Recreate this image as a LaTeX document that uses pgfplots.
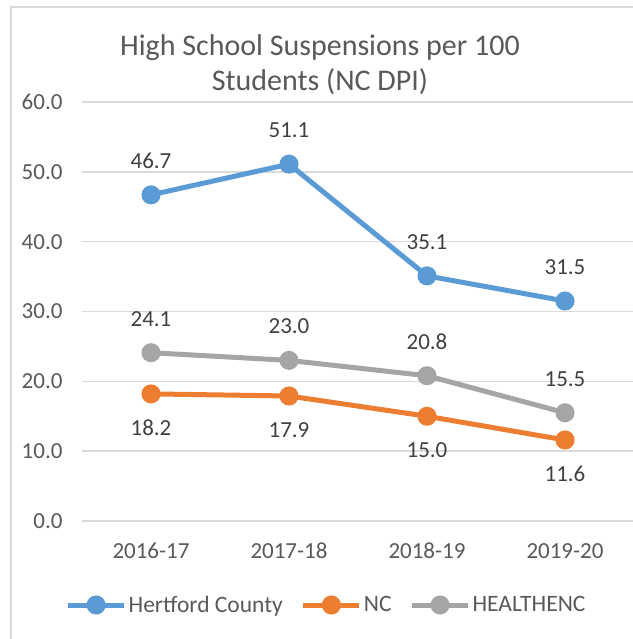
\documentclass[border=0pt]{standalone}
\usepackage{fontspec}
\setmainfont{Carlito}
\usepackage{pgfplots}
\pgfplotsset{compat=1.18}

\definecolor{hertford}{HTML}{5B9BD5}
\definecolor{ncorange}{HTML}{ED7D31}
\definecolor{healthgray}{HTML}{A5A5A5}
\definecolor{gridgray}{HTML}{D9D9D9}
\definecolor{ticktext}{HTML}{595959}
\definecolor{labeltext}{HTML}{404040}

\begin{document}
\begin{tikzpicture}[x=1pt,y=1pt]
\useasboundingbox (0,0) rectangle (632,639);
% chart frame (cropped on the right and bottom)
\draw[gridgray, line width=1.5pt] (11,-20) -- (11,632) -- (700,632);
\node[align=center, text=ticktext, font=\fontsize{30}{35}\selectfont] at (320,574.5)
  {High School Suspensions per 100\\Students (NC DPI)};

\begin{axis}[
    at={(82pt,118pt)}, anchor=south west,
    scale only axis, width=552pt, height=419pt,
    xmin=-0.5, xmax=3.5, ymin=0, ymax=60,
    xtick={0,1,2,3},
    xticklabels={2016-17,2017-18,2018-19,2019-20},
    ytick={0,10,...,60},
    ymajorgrids,
    grid style={gridgray, line width=1.5pt},
    axis line style={draw=none},
    major tick length=0pt,
    clip=false,
    /pgf/number format/assume math mode=true,
    yticklabel={\pgfmathprintnumber[fixed,fixed zerofill,precision=1]{\tick}},
    tick label style={text=ticktext, font=\fontsize{23}{27}\selectfont},
    yticklabel style={anchor=east, xshift=-16pt},
    xticklabel style={anchor=center, yshift=-30pt},
    every axis plot/.append style={line width=5pt, mark=*, mark size=7pt},
    nodes near coords={\pgfmathprintnumber[fixed,fixed zerofill,precision=1]{\pgfplotspointmeta}},
    every node near coord/.append style={text=labeltext, font=\fontsize{23}{27}\selectfont, anchor=center},
    legend columns=3,
    legend style={draw=none, fill=none, at={(0.443,-0.2005)}, anchor=center,
        font=\fontsize{23.5}{27}\selectfont, text=ticktext,
        /tikz/every even column/.append style={column sep=16pt}},
    legend image code/.code={
        \draw[mark repeat=2, mark phase=2] plot coordinates {(0pt,0pt) (28pt,0pt) (56pt,0pt)};
    },
]
\addplot[color=hertford, every node near coord/.append style={yshift=34pt}] coordinates {
    (0,46.7) (1,51.1) (2,35.1) (3,31.5)
};
\addlegendentry{Hertford County}
\addplot[color=ncorange, every node near coord/.append style={yshift=-34pt}] coordinates {
    (0,18.2) (1,17.9) (2,15.0) (3,11.6)
};
\addlegendentry{NC}
\addplot[color=healthgray, every node near coord/.append style={yshift=34pt}] coordinates {
    (0,24.1) (1,23.0) (2,20.8) (3,15.5)
};
\addlegendentry{HEALTHENC}
\end{axis}
\end{tikzpicture}
\end{document}
